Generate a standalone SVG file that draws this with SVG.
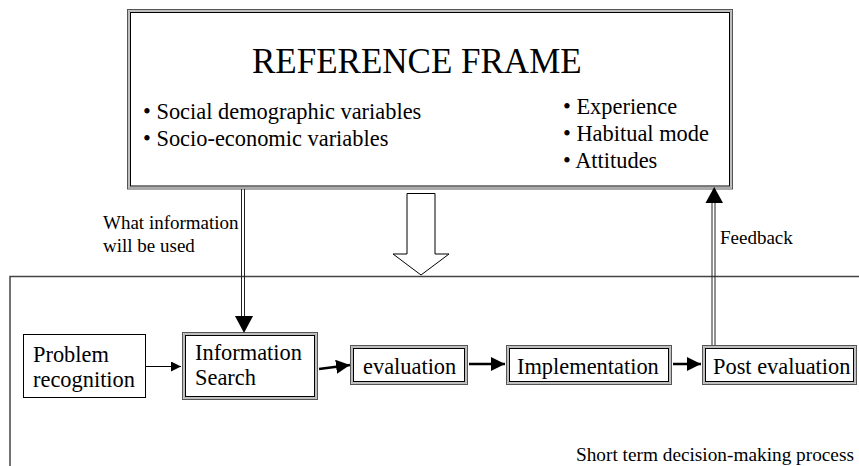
<svg xmlns="http://www.w3.org/2000/svg" width="859" height="466" viewBox="0 0 859 466">
<style>
text{font-family:"Liberation Serif","Times New Roman",serif;fill:#000}
.t{font-size:22.4px}
.lb{font-size:19px}
.ttl{font-size:35px}
.o{fill:none;stroke:#555;stroke-width:1}
.m{fill:none;stroke:#aaa;stroke-width:1.5}
.i{fill:none;stroke:#000;stroke-width:1}
.s{fill:#fff;stroke:#000;stroke-width:1}
.ln{stroke:#000;fill:none}
</style>
<defs>
<marker id="ah" viewBox="0 0 10 10" refX="10" refY="5" markerWidth="10" markerHeight="10" markerUnits="userSpaceOnUse" orient="auto"><path d="M0,0 L10,5 L0,10 z" fill="#000"/></marker>
<marker id="ahb" viewBox="0 0 10 10" refX="10" refY="5" markerWidth="14" markerHeight="14" markerUnits="userSpaceOnUse" orient="auto"><path d="M0,0 L10,5 L0,10 z" fill="#000"/></marker>
</defs>

<g id="process-boundary">
<path d="M10,466 V276.5 H859" fill="none" stroke="#444" stroke-width="1.5"/>
<text x="576" y="461" style="font-size:19.3px">Short term decision-making process</text>
</g>

<g id="reference-frame">
<rect x="127.5" y="9.5" width="605" height="179.5" fill="#fff" class="o"/>
<rect x="129" y="11" width="602" height="176.5" class="m"/>
<rect x="130.5" y="12.5" width="599" height="173.5" class="i"/>
<text class="ttl" x="252" y="73">REFERENCE FRAME</text>
<text class="t" x="143" y="119">• Social demographic variables</text>
<text class="t" x="143" y="146">• Socio-economic variables</text>
<text class="t" x="563" y="114">• Experience</text>
<text class="t" x="563" y="141">• Habitual mode</text>
<text class="t" x="563" y="168">• Attitudes</text>
</g>

<g id="big-arrow">
<path d="M407,193.5 H435 V254 H449 L421,275 L393,254 H407 Z" fill="#fff" stroke="#000" stroke-width="1"/>
</g>

<g id="problem-recognition">
<rect x="23.5" y="334.5" width="122" height="63" class="s"/>
<text class="t" x="33" y="362">Problem</text>
<text class="t" x="33" y="387">recognition</text>
</g>

<g id="information-search">
<rect x="182.5" y="332.5" width="135" height="67" fill="#fff" class="o"/>
<rect x="184" y="334" width="132" height="64" class="m"/>
<rect x="185.5" y="335.5" width="129" height="61" class="i"/>
<text class="t" x="195" y="360">Information</text>
<text class="t" x="195" y="385">Search</text>
</g>

<g id="evaluation">
<rect x="350.5" y="345.5" width="117" height="39" fill="#fff" class="o"/>
<rect x="352" y="347" width="114" height="36" class="m"/>
<rect x="353.5" y="348.5" width="111" height="33" class="i"/>
<text class="t" x="363" y="374">evaluation</text>
</g>

<g id="implementation">
<rect x="506.5" y="345.5" width="165" height="39" fill="#fff" class="o"/>
<rect x="508" y="347" width="162" height="36" class="m"/>
<rect x="509.5" y="348.5" width="159" height="33" class="i"/>
<text class="t" x="517" y="374">Implementation</text>
</g>

<g id="post-evaluation">
<rect x="702.5" y="345.5" width="154" height="39" fill="#fff" class="o"/>
<rect x="704" y="347" width="151" height="36" class="m"/>
<rect x="705.5" y="348.5" width="148" height="33" class="i"/>
<text class="t" x="713" y="374">Post evaluation</text>
</g>

<g id="connectors">
<line x1="241.5" y1="189" x2="241.5" y2="318" stroke="#222" stroke-width="1"/>
<line x1="244.5" y1="189" x2="244.5" y2="318" stroke="#222" stroke-width="1"/>
<path d="M235,316 L253,316 L244,333 Z" fill="#000"/>
<text class="lb" x="103" y="229">What information</text>
<text class="lb" x="103" y="252">will be used</text>

<line x1="712" y1="345" x2="712" y2="200" stroke="#222" stroke-width="1"/>
<line x1="715" y1="345" x2="715" y2="200" stroke="#222" stroke-width="1"/>
<path d="M705.5,203 L723,203 L714.2,187 Z" fill="#000"/>
<text class="lb" x="720" y="244">Feedback</text>

<line x1="146" y1="366.5" x2="181" y2="366.5" class="ln" stroke-width="1" marker-end="url(#ah)"/>
<line x1="319" y1="369" x2="350" y2="365" class="ln" stroke-width="2.5" marker-end="url(#ahb)"/>
<line x1="469" y1="364" x2="505" y2="364" class="ln" stroke-width="2.5" marker-end="url(#ahb)"/>
<line x1="673" y1="364" x2="701" y2="364" class="ln" stroke-width="2.5" marker-end="url(#ahb)"/>
</g>
</svg>
